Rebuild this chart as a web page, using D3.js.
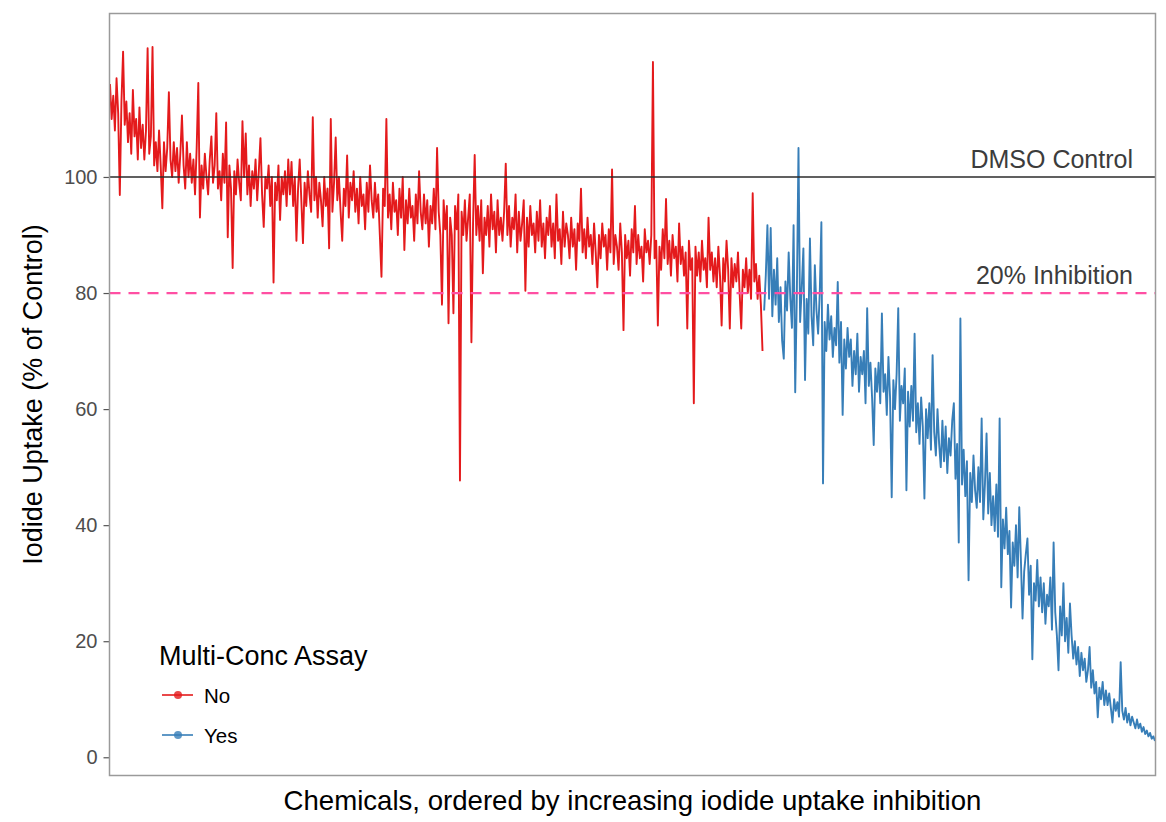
<!DOCTYPE html>
<html lang="en">
	<head>
		<meta charset="utf-8">
		<title>Iodide uptake, ordered by inhibition</title>
		<script src="https://d3js.org/d3.v7.min.js"></script>
		<style type="text/css">
			body { margin: 0; background: #ffffff; }
			text { font-family: "Liberation Sans", Arial, sans-serif; }
		</style>
	</head>
	<body>
		<script type="text/javascript">
			// chemicals not sent to the multi-conc assay (red) left to right
			var noValues = [
				116, 110, 114, 108, 117, 111, 96.9, 113, 121.6, 109,
				113, 106, 111, 104, 115, 107, 110, 103, 112, 105,
				109, 103, 108, 122.2, 104, 107, 122.4, 102, 106, 101,
				108, 102, 94.6, 106, 101, 105, 114.6, 103, 100, 106,
				101, 105, 99, 104, 110.6, 102, 98, 106, 100, 104,
				99, 103, 97, 105, 116.2, 93, 102, 98, 104, 100,
				97, 103, 107, 99, 102, 111, 98, 101, 96, 104,
				99, 109.4, 89.6, 102, 98, 84.3, 101, 97, 103, 99,
				96, 109.6, 100, 107.5, 97, 102, 95, 101, 98, 103,
				96, 101, 106.7, 97, 91.4, 100, 98, 102, 95, 100,
				81.8, 99, 96, 102, 92.6, 100, 97, 101, 95, 103,
				97, 102.6, 95, 100, 89, 98, 103, 96, 88.6, 99,
				95, 101, 97, 94, 110.3, 96, 100, 93, 99, 96,
				91.5, 100, 95, 98, 87.7, 110, 94, 99, 106.8, 96,
				100, 94, 89, 98, 95, 103.7, 93, 99, 96, 101,
				94, 98, 92, 100, 95, 97, 91, 99, 94, 102,
				96, 93, 99, 94, 97, 90, 82.8, 98, 95, 110,
				93, 97, 91, 99, 94, 96, 90, 98, 93, 100,
				87.4, 96, 92, 98, 93, 95, 89, 97, 92, 101,
				94, 91, 97, 92, 96, 88, 95, 92, 98, 91,
				105, 94, 90, 78, 96, 91, 95, 74.8, 93, 90,
				76.5, 95, 91, 97, 47.7, 94, 90, 96, 89, 93,
				97, 71.5, 92, 103.8, 90, 95, 89, 96, 83.4, 93,
				90, 95, 88, 97, 91, 94, 87, 96, 90, 93,
				89, 94, 102.3, 90, 95, 88, 93, 91, 97, 87,
				94, 89, 92, 96, 80.4, 93, 88, 95, 90, 92,
				87, 94, 89, 96, 88, 92, 86, 93, 90, 95,
				88, 92, 86, 97, 89, 91, 85, 94, 88, 92,
				90, 86, 93, 88, 91, 84, 92, 89, 98, 87,
				91, 86, 93, 88, 90, 85, 92, 87, 81, 90,
				86, 92, 88, 90, 84, 91, 87, 101.3, 85, 90,
				88, 84, 92, 87, 73.6, 90, 86, 89, 83, 91,
				87, 95, 85, 90, 86, 88, 82, 91, 87, 89,
				85, 90, 119.8, 86, 89, 74.4, 88, 84, 91, 86,
				96.2, 85, 89, 83, 90, 86, 88, 82, 92, 85,
				88, 83, 87, 73.9, 89, 84, 86, 61, 88, 83,
				87, 82, 89, 84, 86, 81, 93, 84, 87, 82,
				86, 81, 88, 83, 74.4, 86, 82, 89, 84, 73.9,
				86, 81, 85, 82, 87, 80, 73.9, 84, 81, 86,
				80, 84, 79, 97.2, 82, 85, 79, 83, 78, 70
			];
			// chemicals sent to the multi-conc assay (blue)
			var yesValues = [
				77, 83, 91.7, 79, 91.2, 76, 84, 78, 86, 75,
				81, 71.8, 68.7, 82, 77, 87, 79, 74, 91.7, 62.9,
				80, 105, 75, 81, 87.7, 65, 79, 73, 89.4, 76,
				71, 84.8, 77, 73, 80, 92.2, 47.2, 75, 70, 78,
				72, 76, 69, 74, 71, 81.9, 68, 75, 59, 72,
				67, 74, 69, 72, 64, 70, 66, 73, 63, 69,
				66, 70, 61, 77.4, 64, 68, 62, 53.8, 67, 63,
				68, 61, 76.5, 63, 66, 59, 69, 62, 44.8, 65,
				60, 66, 77.4, 58, 64, 61, 67, 46, 63, 57,
				64, 58, 73, 56, 61, 54, 62, 57, 44.6, 60,
				55, 61, 53, 69.3, 56, 52, 60, 54, 50, 58,
				51, 57, 49, 55, 52, 58, 61, 48, 54, 37,
				75.6, 47, 53, 45, 51, 30.5, 49, 44, 52, 46,
				43, 50, 44, 58.4, 41, 47, 55.8, 42, 49, 40,
				45, 39, 47, 38, 58.4, 29.3, 41, 36, 43, 35,
				39, 25.8, 37, 33, 40, 31, 43.1, 34, 23.9, 32,
				35, 37.7, 28, 33, 16.9, 30, 27, 34, 26, 31,
				25, 30, 23, 28, 26, 31, 22, 37, 25, 21,
				15, 26, 21, 30, 20, 24, 18, 26.5, 21, 17,
				20, 16, 19, 14, 18, 15, 17, 13, 15, 19,
				12, 15, 11, 13, 6.9, 12, 10, 13, 9, 11.5,
				9, 11, 8.5, 6, 10, 8, 9.5, 7, 16.4, 8,
				6.5, 8.5, 6, 7.5, 5.5, 7, 6, 5, 6.5, 5,
				5.8, 4.4, 5.2, 4, 4.6, 3.6, 4.2, 3.2, 3.6, 2.8
			];
			var yTicks = [0, 20, 40, 60, 80, 100];
			var refLevels = [100, 80];
			var refLabels = ["DMSO Control", "20% Inhibition"];
			var legendTitle = "Multi-Conc Assay";
			var legendLabels = ["No", "Yes"];
			var seriesColors = ["#e41a1c", "#377eb8"];
			var xTitle = "Chemicals, ordered by increasing iodide uptake inhibition";
			var yTitle = "Iodide Uptake (% of Control)";

			//Width and height
			var w = 1166;
			var h = 822;
			var panelLeft = 109.5, panelRight = 1155.5, panelTop = 13.5, panelBottom = 775.5;

			var svg = d3.select("body")
						.append("svg")
						.attr("width", w)
						.attr("height", h);

			var total = noValues.length + yesValues.length;
			var xscale = d3.scaleLinear()
						.domain([0, total - 1])
						.range([panelLeft + 0.5, panelRight - 0.5]);
			var yscale = d3.scaleLinear()
						.domain([-3.14, 128.17])
						.range([panelBottom, panelTop]);

			svg.append("clipPath")
				.attr("id", "panel")
				.append("rect")
				.attr("x", panelLeft)
				.attr("y", panelTop)
				.attr("width", panelRight - panelLeft)
				.attr("height", panelBottom - panelTop);

			// the two series as lines
			var series = [
				noValues.map(function(v, i) { return { i: i, v: v }; }),
				yesValues.map(function(v, i) { return { i: i + noValues.length, v: v }; })
			];
			var line = d3.line()
						.x(function(d) { return xscale(d.i); })
						.y(function(d) { return yscale(d.v); });

			var plot = svg.append("g").attr("clip-path", "url(#panel)");
			plot.selectAll("path.series")
				.data(series)
				.enter()
				.append("path")
				.attr("class", "series")
				.attr("d", line)
				.attr("fill", "none")
				.attr("stroke", function(d, i) { return seriesColors[i]; })
				.attr("stroke-width", 1.9)
				.attr("stroke-linejoin", "round");

			// reference lines: control and 20% inhibition
			plot.selectAll("line.ref")
				.data(refLevels)
				.enter()
				.append("line")
				.attr("class", "ref")
				.attr("x1", panelLeft)
				.attr("x2", panelRight)
				.attr("y1", function(d) { return yscale(d); })
				.attr("y2", function(d) { return yscale(d); })
				.attr("stroke", function(d, i) { return i == 0 ? "#2b2b2b" : "#ff4fa3"; })
				.attr("stroke-width", function(d, i) { return i == 0 ? 1.6 : 2.2; })
				.attr("stroke-dasharray", function(d, i) { return i == 0 ? null : "11,8"; });

			svg.selectAll("text.ref")
				.data(refLevels)
				.enter()
				.append("text")
				.attr("class", "ref")
				.text(function(d, i) { return refLabels[i]; })
				.attr("text-anchor", "end")
				.attr("x", 1133)
				.attr("y", function(d) { return yscale(d) - 9; })
				.attr("font-size", "25px")
				.attr("fill", "#3c3c3c");

			// y axis
			var yAxis = d3.axisLeft(yscale)
						.tickValues(yTicks)
						.tickSize(6)
						.tickPadding(6);
			var ag = svg.append("g")
				.attr("transform", "translate(" + panelLeft + ",0)")
				.call(yAxis);
			ag.select(".domain").remove();
			ag.selectAll(".tick line").attr("stroke", "#555").attr("stroke-width", 1.2);
			ag.selectAll(".tick text")
				.attr("font-family", "'Liberation Sans', Arial, sans-serif")
				.attr("font-size", "20px")
				.attr("fill", "#4d4d4d");

			// axis titles
			svg.append("text")
				.text(xTitle)
				.attr("text-anchor", "middle")
				.attr("x", (panelLeft + panelRight) / 2)
				.attr("y", 810)
				.attr("font-size", "27.6px")
				.attr("fill", "#000");

			svg.append("text")
				.text(yTitle)
				.attr("text-anchor", "middle")
				.attr("transform", "translate(42," + ((panelTop + panelBottom) / 2) + ") rotate(-90)")
				.attr("font-size", "27px")
				.attr("fill", "#000");

			// legend
			var legend = svg.append("g");
			legend.append("text")
				.text(legendTitle)
				.attr("x", 159)
				.attr("y", 665)
				.attr("font-size", "27px")
				.attr("fill", "#000");

			var keys = legend.selectAll("g.key")
				.data(legendLabels)
				.enter()
				.append("g")
				.attr("class", "key")
				.attr("transform", function(d, i) { return "translate(0," + (695 + i * 40) + ")"; });
			keys.append("line")
				.attr("x1", 162)
				.attr("x2", 193)
				.attr("stroke", function(d, i) { return seriesColors[i]; })
				.attr("stroke-width", 2)
				.attr("stroke-opacity", 0.8);
			keys.append("circle")
				.attr("cx", 178)
				.attr("r", 4)
				.attr("fill", function(d, i) { return seriesColors[i]; })
				.attr("fill-opacity", 0.8);
			keys.append("text")
				.text(function(d) { return d; })
				.attr("x", 204)
				.attr("y", 8)
				.attr("font-size", "20.5px")
				.attr("fill", "#000");

			// panel border
			svg.append("rect")
				.attr("x", panelLeft)
				.attr("y", panelTop)
				.attr("width", panelRight - panelLeft)
				.attr("height", panelBottom - panelTop)
				.attr("fill", "none")
				.attr("stroke", "#9a9a9a")
				.attr("stroke-width", 1.5);
		</script>
	</body>
</html>
